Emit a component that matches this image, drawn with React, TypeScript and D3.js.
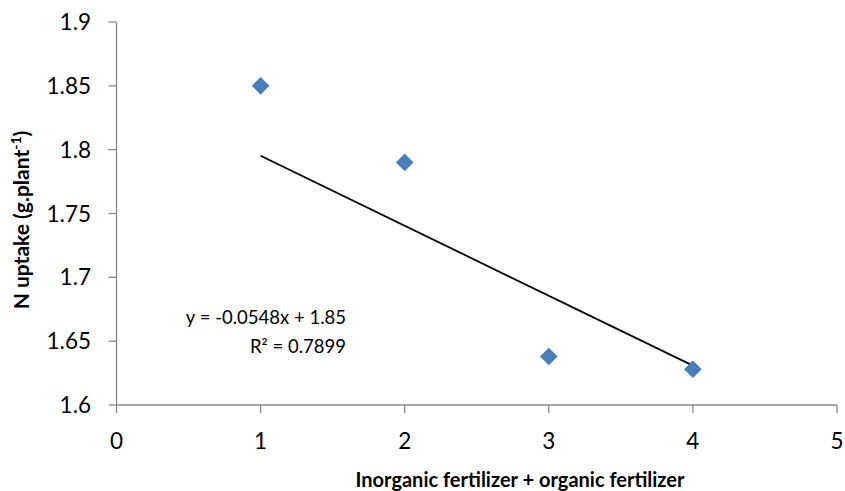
import React from 'react';
import * as d3 from 'd3';

const xValues = [1, 2, 3, 4];
const yValues = [1.85, 1.79, 1.638, 1.628];
const xTicks = [0, 1, 2, 3, 4, 5];
const yTicks = [1.6, 1.65, 1.7, 1.75, 1.8, 1.85, 1.9];
const slope = -0.0548;
const intercept = 1.85;

const W = 845;
const H = 491;
const FONT = "Lato, 'Open Sans', sans-serif";

const App: React.FC = () => {
  const x = d3.scaleLinear().domain([0, 5]).range([116.5, 837]);
  const y = d3.scaleLinear().domain([1.6, 1.9]).range([405, 22]);

  const trend = d3
    .line<number>()
    .x((d) => x(d))
    .y((d) => y(slope * d + intercept));

  const diamond = d3.symbol().type(d3.symbolDiamond2).size(200);

  return (
    <svg
      width={W}
      height={H}
      style={{ position: 'absolute', left: 0, top: 0, background: '#fff' }}
      fontFamily={FONT}
    >
      {/* y axis */}
      <line x1={x(0)} x2={x(0)} y1={y(1.9)} y2={y(1.6)} stroke="#888" strokeWidth={1.3} />
      {yTicks.map((t) => (
        <g key={t}>
          <line x1={x(0) - 8} x2={x(0)} y1={y(t)} y2={y(t)} stroke="#888" strokeWidth={1.3} />
          <text x={91} y={y(t)} dy="0.36em" textAnchor="end" fontSize={22.5} fill="#000">
            {d3.format('')(+t.toFixed(2))}
          </text>
        </g>
      ))}
      {/* x axis */}
      <line x1={x(0)} x2={x(5)} y1={y(1.6)} y2={y(1.6)} stroke="#888" strokeWidth={1.3} />
      {xTicks.map((t) => (
        <g key={t}>
          <line x1={x(t)} x2={x(t)} y1={y(1.6)} y2={y(1.6) + 8} stroke="#888" strokeWidth={1.3} />
          <text x={x(t)} y={449} textAnchor="middle" fontSize={22.5} fill="#000">
            {t}
          </text>
        </g>
      ))}

      {/* trendline */}
      <path d={trend([1, 4]) || ''} stroke="#000" strokeWidth={1.8} fill="none" />

      {/* points */}
      {xValues.map((v, i) => (
        <path
          key={i}
          d={diamond() || ''}
          transform={`translate(${x(v)},${y(yValues[i])})`}
          fill="#4a7ebb"
        />
      ))}

      {/* equation */}
      <text x={346} y={324} textAnchor="end" fontSize={18.5} fill="#000">
        y = -0.0548x + 1.85
      </text>
      <text x={346} y={353} textAnchor="end" fontSize={18.5} fill="#000">
        R² = 0.7899
      </text>

      {/* axis titles */}
      <text x={520} y={487} textAnchor="middle" fontSize={20} fontWeight="bold" fill="#000">
        Inorganic fertilizer + organic fertilizer
      </text>
      <text
        transform={`translate(29,220) rotate(-90)`}
        textAnchor="middle"
        fontSize={21}
        fontWeight="bold"
        fill="#000"
      >
        N uptake (g.plant
        <tspan dy={-8} fontSize={14}>-1</tspan>
        <tspan dy={8}>)</tspan>
      </text>
    </svg>
  );
};

export default App;
